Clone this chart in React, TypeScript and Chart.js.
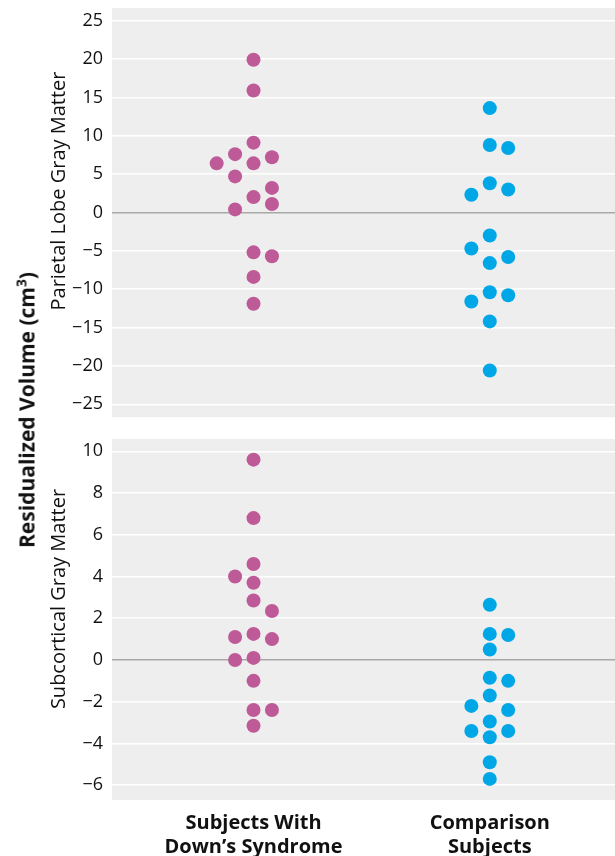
import React, { useRef, useEffect } from 'react';
import { Chart, registerables } from 'chart.js';

Chart.register(...registerables);

// Group positions on the x axis and their labels
const GROUPS = [1, 2];
const GROUP_LABELS = [
    ['Subjects With', 'Down\u2019s Syndrome'],
    ['Comparison', 'Subjects'],
];

// Parietal lobe gray matter (top panel)
const PARIETAL_DOWN = [19.9, 15.9, 9.1, 7.6, 6.4, 6.4, 7.2, 4.7, 3.2, 2.0, 1.1, 0.4, -5.2, -5.7, -8.4, -11.9];
const PARIETAL_DOWN_SLOT = [0, 0, 0, -1, -2, 0, 1, -1, 1, 0, 1, -1, 0, 1, 0, 0];
const PARIETAL_COMP = [13.6, 8.8, 8.4, 3.8, 3.0, 2.3, -3.0, -4.7, -5.8, -6.6, -10.4, -10.8, -11.6, -14.2, -20.6];
const PARIETAL_COMP_SLOT = [0, 0, 1, 0, 1, -1, 0, -1, 1, 0, 0, 1, -1, 0, 0];

// Subcortical gray matter (bottom panel)
const SUBCORT_DOWN = [9.6, 6.8, 4.6, 4.0, 3.7, 2.85, 2.35, 1.1, 1.25, 1.0, 0.0, 0.1, -1.0, -2.4, -2.4, -3.15];
const SUBCORT_DOWN_SLOT = [0, 0, 0, -1, 0, 0, 1, -1, 0, 1, -1, 0, 0, 0, 1, 0];
const SUBCORT_COMP = [2.65, 1.25, 1.2, 0.5, -0.85, -1.0, -1.7, -2.2, -2.4, -2.95, -3.4, -3.4, -3.7, -4.9, -5.7];
const SUBCORT_COMP_SLOT = [0, 0, 1, 0, 0, 1, 0, -1, 1, 0, -1, 1, 0, 0, 0];

const PINK = '#bd5a97';
const BLUE = '#00a7e7';
const FONT = "'Open Sans', 'Noto Sans', sans-serif";
const SLOT_WIDTH = 0.078; // horizontal spacing between side-by-side dots

const toPoints = (group: number, values: number[], slots: number[]) =>
    values.map((v, i) => ({ x: group + slots[i] * SLOT_WIDTH, y: v }));

// grey panel behind the plot area
const panelBackground = {
    id: 'panelBackground',
    beforeDraw(chart) {
        const { ctx, chartArea } = chart;
        ctx.save();
        ctx.fillStyle = '#eeeeee';
        ctx.fillRect(chartArea.left, chartArea.top, chartArea.right - chartArea.left, chartArea.bottom - chartArea.top);
        ctx.restore();
    },
};

// keep label overhang from pushing the plot area around
const noScalePadding = (scale) => {
    scale.paddingTop = 0;
    scale.paddingBottom = 0;
    scale.paddingLeft = 0;
    scale.paddingRight = 0;
};

function buildConfig(opts) {
    const { down, downSlot, comp, compSlot, min, max, step, showX, padTop, padBottom } = opts;
    return {
        type: 'scatter',
        data: {
            datasets: [
                {
                    data: toPoints(GROUPS[0], down, downSlot),
                    backgroundColor: PINK,
                    borderWidth: 0,
                    pointRadius: 7,
                    pointHoverRadius: 7,
                },
                {
                    data: toPoints(GROUPS[1], comp, compSlot),
                    backgroundColor: BLUE,
                    borderWidth: 0,
                    pointRadius: 7,
                    pointHoverRadius: 7,
                },
            ],
        },
        options: {
            animation: false,
            responsive: false,
            layout: {
                autoPadding: false, // otherwise the point radius adds a margin on every side
                padding: { top: padTop, bottom: padBottom, left: 0, right: 0 },
            },
            plugins: {
                legend: { display: false },
                tooltip: { enabled: false },
            },
            scales: {
                x: {
                    type: 'linear',
                    display: showX,
                    min: 0.401,
                    max: 2.53,
                    grid: { display: false, drawTicks: false },
                    border: { display: false },
                    afterBuildTicks: (scale) => {
                        scale.ticks = GROUPS.map(v => ({ value: v }));
                    },
                    afterFit: (scale) => {
                        scale.height = showX ? 56 : 0;
                        noScalePadding(scale);
                    },
                    ticks: {
                        padding: 11,
                        color: '#111',
                        font: { family: FONT, size: 20, weight: 'bold', lineHeight: 1.2 },
                        callback: (value) => GROUP_LABELS[GROUPS.indexOf(value)] || '',
                    },
                },
                y: {
                    type: 'linear',
                    min,
                    max,
                    afterFit: (scale) => {
                        scale.width = 112;
                        noScalePadding(scale);
                    },
                    border: { display: false },
                    grid: {
                        drawTicks: false,
                        lineWidth: 1.5,
                        color: (c) => (c.tick && c.tick.value === 0 ? '#a8a8a8' : '#ffffff'),
                    },
                    ticks: {
                        stepSize: step,
                        includeBounds: false,
                        padding: 9,
                        color: '#111',
                        font: { family: FONT, size: 18 },
                        callback: (value) => String(value).replace('-', '\u2212'),
                    },
                },
            },
        },
        plugins: [panelBackground],
    };
}

const ScatterPanel = ({ config, top, height }) => {
    const canvasRef = useRef<HTMLCanvasElement>(null);

    useEffect(() => {
        if (!canvasRef.current) return;
        const chart = new Chart(canvasRef.current, config);
        return () => {
            chart.destroy();
        };
    }, [config]);

    return (
        <div style={{ position: 'absolute', left: 0, top, width: 615, height }}>
            <canvas ref={canvasRef} width={615} height={height} style={{ display: 'block' }}></canvas>
        </div>
    );
};

const topConfig = buildConfig({
    down: PARIETAL_DOWN,
    downSlot: PARIETAL_DOWN_SLOT,
    comp: PARIETAL_COMP,
    compSlot: PARIETAL_COMP_SLOT,
    min: -26.7,
    max: 26.65,
    step: 5,
    showX: false,
    padTop: 8,
    padBottom: 0.7,
});

const bottomConfig = buildConfig({
    down: SUBCORT_DOWN,
    downSlot: SUBCORT_DOWN_SLOT,
    comp: SUBCORT_COMP,
    compSlot: SUBCORT_COMP_SLOT,
    min: -6.71,
    max: 10.59,
    step: 2,
    showX: true,
    padTop: 9,
    padBottom: 0,
});

const rotated = (cx: number, cy: number, bold: boolean, size: number): React.CSSProperties => ({
    position: 'absolute',
    left: cx,
    top: cy,
    transform: 'translate(-50%, -50%) rotate(-90deg)',
    whiteSpace: 'nowrap',
    fontFamily: FONT,
    fontSize: size,
    fontWeight: bold ? 'bold' : 'normal',
    color: '#111',
    lineHeight: 1,
});

export default function App() {
    return (
        <div style={{ position: 'absolute', left: 0, top: 0, width: 615, height: 856, background: '#fff' }}>
            <ScatterPanel config={topConfig} top={0} height={418} />
            <ScatterPanel config={bottomConfig} top={430} height={426} />
            <div style={rotated(27, 410, true, 21)}>
                Residualized Volume (cm<sup style={{ fontSize: '0.65em', verticalAlign: 'super', lineHeight: 0 }}>3</sup>)
            </div>
            <div style={rotated(57.5, 191, false, 20)}>Parietal Lobe Gray Matter</div>
            <div style={rotated(57.5, 599, false, 20)}>Subcortical Gray Matter</div>
        </div>
    );
}
